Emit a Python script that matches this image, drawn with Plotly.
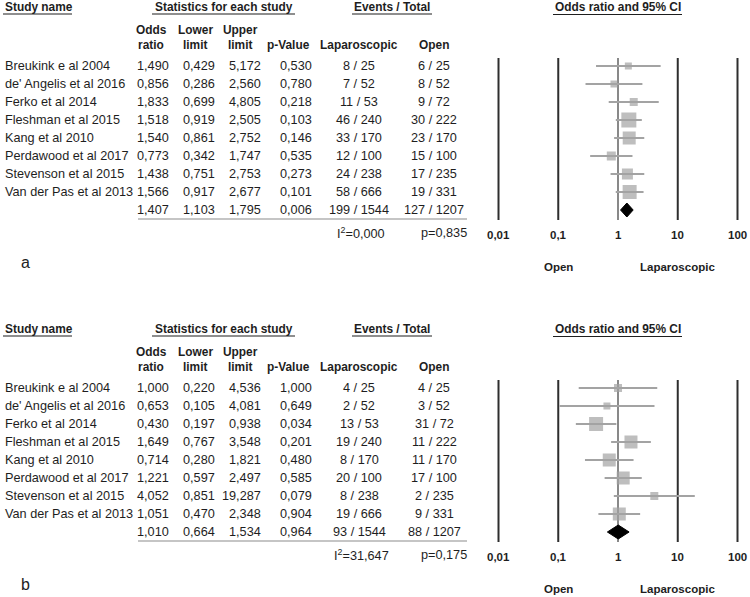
import plotly.graph_objects as go

# ---------------- data ----------------
studies = ["Breukink e al 2004", "de' Angelis et al 2016", "Ferko et al 2014",
           "Fleshman et al 2015", "Kang et al 2010", "Perdawood et al 2017",
           "Stevenson et al 2015", "Van der Pas et al 2013"]

a_or = [1.490, 0.856, 1.833, 1.518, 1.540, 0.773, 1.438, 1.566]
a_ll = [0.429, 0.286, 0.699, 0.919, 0.861, 0.342, 0.751, 0.917]
a_ul = [5.172, 2.560, 4.805, 2.505, 2.752, 1.747, 2.753, 2.677]
a_p = [0.530, 0.780, 0.218, 0.103, 0.146, 0.535, 0.273, 0.101]
a_lap_ev = [8, 7, 11, 46, 33, 12, 24, 58]
a_lap_n = [25, 52, 53, 240, 170, 100, 238, 666]
a_open_ev = [6, 8, 9, 30, 23, 15, 17, 19]
a_open_n = [25, 52, 72, 222, 170, 100, 235, 331]
a_sum = [1.407, 1.103, 1.795, 0.006]  # OR, LL, UL, p
a_sum_lap = [199, 1544]
a_sum_open = [127, 1207]
a_i2 = 0.000
a_phet = 0.835

b_or = [1.000, 0.653, 0.430, 1.649, 0.714, 1.221, 4.052, 1.051]
b_ll = [0.220, 0.105, 0.197, 0.767, 0.280, 0.597, 0.851, 0.470]
b_ul = [4.536, 4.081, 0.938, 3.548, 1.821, 2.497, 19.287, 2.348]
b_p = [1.000, 0.649, 0.034, 0.201, 0.480, 0.585, 0.079, 0.904]
b_lap_ev = [4, 2, 13, 19, 8, 20, 8, 19]
b_lap_n = [25, 52, 53, 240, 170, 100, 238, 666]
b_open_ev = [4, 3, 31, 11, 11, 17, 2, 9]
b_open_n = [25, 52, 72, 222, 170, 100, 235, 331]
b_sum = [1.010, 0.664, 1.534, 0.964]
b_sum_lap = [93, 1544]
b_sum_open = [88, 1207]
b_i2 = 31.647
b_phet = 0.175

tick_vals = [0.01, 0.1, 1, 10, 100]
tick_labels = ["0,01", "0,1", "1", "10", "100"]

# ---------------- styles ----------------
a_sizes = [7, 7, 8, 15, 13, 9, 11, 14]
b_sizes = [8, 7, 14, 13, 13, 13, 8, 13]

W, H = 750, 597
FONT = "Liberation Sans"
TXT = "#1e1e1e"
GRAY = "#a3a3a3"
REG = 12.7
BOLD = 11.9

ROW0 = 66
DY = 18
OFF = 322


def fmt(v):
    return f"{v:.3f}".replace(".", ",")


fig = go.Figure()
ann = []
shapes = []


def px(x):
    return x / W


def text(x, y, s, anchor="left", size=REG, bold=False, color=TXT):
    ann.append(dict(x=px(x), y=y, xref="paper", yref="y", text=(f"<b>{s}</b>" if bold else s),
                    showarrow=False, xanchor=anchor, yanchor="middle",
                    font=dict(family=FONT, size=size, color=color)))


def hline(x0, x1, y, color=TXT, width=1.2):
    shapes.append(dict(type="line", xref="paper", yref="y", x0=px(x0), x1=px(x1), y0=y, y1=y,
                       line=dict(color=color, width=width)))


def panel(off, orv, ll, ul, p, lev, ln, oev, on, summ, slap, sopen, i2, phet, sizes, label):
    # headers
    text(3, 7 + off, "Study name", bold=True, size=BOLD)
    hline(3, 72, 14 + off)
    text(223.5, 7 + off, "Statistics for each study", anchor="center", bold=True, size=BOLD)
    hline(152, 295, 14 + off)
    text(392, 7 + off, "Events / Total", anchor="center", bold=True, size=BOLD)
    hline(352, 432, 14 + off)
    text(617.5, 7 + off, "Odds ratio and 95% CI", anchor="center", bold=True, size=BOLD)
    hline(553, 682, 14.5 + off)

    for x, t1, t2 in [(151, "Odds", "ratio"), (195, "Lower", "limit"), (240, "Upper", "limit")]:
        text(x, 30 + off, t1, anchor="center", bold=True, size=BOLD)
        text(x, 45 + off, t2, anchor="center", bold=True, size=BOLD)
    text(288, 45 + off, "p-Value", anchor="center", bold=True, size=BOLD)
    text(359, 45 + off, "Laparoscopic", anchor="center", bold=True, size=BOLD)
    text(434, 45 + off, "Open", anchor="center", bold=True, size=BOLD)

    rows = [ROW0 + off + i * DY for i in range(len(studies))]
    for i, y in enumerate(rows):
        text(3, y, studies[i])
        text(171, y, fmt(orv[i]), anchor="right")
        text(217, y, fmt(ll[i]), anchor="right")
        text(263, y, fmt(ul[i]), anchor="right")
        text(314, y, fmt(p[i]), anchor="right")
        text(359, y, f"{lev[i]} / {ln[i]}", anchor="center")
        text(434, y, f"{oev[i]} / {on[i]}", anchor="center")
    ys = ROW0 + off + len(studies) * DY
    text(171, ys, fmt(summ[0]), anchor="right")
    text(217, ys, fmt(summ[1]), anchor="right")
    text(263, ys, fmt(summ[2]), anchor="right")
    text(314, ys, fmt(summ[3]), anchor="right")
    text(359, ys, f"{slap[0]} / {slap[1]}", anchor="center")
    text(434, ys, f"{sopen[0]} / {sopen[1]}", anchor="center")
    hline(138, 467, 219 + off, color="#8c8c8c", width=1.2)
    text(361, 233 + off, "I<sup>2</sup>=" + fmt(i2), anchor="center")
    text(469, 233 + off, "p=" + fmt(phet), anchor="right")

    # forest: vertical reference lines
    top, bot = 58 + off, 220 + off
    xs, yv = [], []
    for v in tick_vals:
        if v == 1:
            continue
        xs += [v, v, None]
        yv += [top, bot, None]
    fig.add_trace(go.Scatter(x=xs, y=yv, mode="lines", line=dict(color="#2e2e2e", width=2),
                             hoverinfo="skip", showlegend=False))
    fig.add_trace(go.Scatter(x=[1, 1], y=[top, bot], mode="lines",
                             line=dict(color="#4a4a4a", width=1.3),
                             hoverinfo="skip", showlegend=False))
    # CI whiskers
    cx, cy = [], []
    for i, y in enumerate(rows):
        cx += [ll[i], ul[i], None]
        cy += [y, y, None]
    fig.add_trace(go.Scatter(x=cx, y=cy, mode="lines", line=dict(color=GRAY, width=2.2),
                             hoverinfo="skip", showlegend=False))
    fig.add_trace(go.Scatter(x=orv, y=rows, mode="markers",
                             marker=dict(symbol="square", size=sizes, color=GRAY,
                                         line=dict(width=0)),
                             hoverinfo="skip", showlegend=False))
    # summary diamond
    hh = 7
    fig.add_trace(go.Scatter(x=[summ[1], summ[0], summ[2], summ[0], summ[1]],
                             y=[ys, ys - hh, ys, ys + hh, ys], mode="lines", fill="toself",
                             fillcolor="black", line=dict(color="black", width=1),
                             hoverinfo="skip", showlegend=False))
    # tick labels
    for k, t in enumerate(tick_labels):
        x_px = 498.5 + k * 59.75
        text(x_px, 235 + off, t, anchor="center", bold=True, size=11.5)
    text(558.5, 267 + off, "Open", anchor="center", bold=True, size=11.5)
    text(677.5, 267 + off, "Laparoscopic", anchor="center", bold=True, size=11.5)
    text(25, 262 + off, label, anchor="center", size=16, color="#222222")


panel(0, a_or, a_ll, a_ul, a_p, a_lap_ev, a_lap_n, a_open_ev, a_open_n, a_sum,
      a_sum_lap, a_sum_open, a_i2, a_phet, a_sizes, "a")
panel(OFF, b_or, b_ll, b_ul, b_p, b_lap_ev, b_lap_n, b_open_ev, b_open_n, b_sum,
      b_sum_lap, b_sum_open, b_i2, b_phet, b_sizes, "b")

dec = 59.75
x_lo = 498.5 - 0.1 * dec
x_hi = 737.5 + 0.1 * dec
fig.update_layout(
    width=W, height=H,
    margin=dict(l=0, r=0, t=0, b=0),
    paper_bgcolor="white", plot_bgcolor="white",
    xaxis=dict(type="log", range=[-2.1, 2.1], domain=[x_lo / W, x_hi / W], visible=False,
               fixedrange=True),
    yaxis=dict(range=[H, 0], domain=[0, 1], visible=False, fixedrange=True),
    annotations=ann, shapes=shapes,
    font=dict(family=FONT, color=TXT),
    hovermode=False,
)

fig.write_html("out.html", config={"displayModeBar": False},
               post_script="document.body.style.margin='0';")
